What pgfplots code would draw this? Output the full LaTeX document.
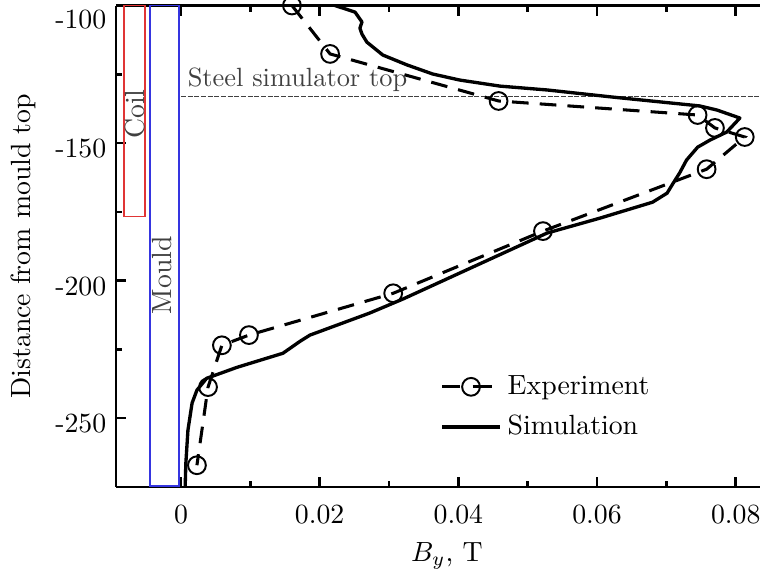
\documentclass[border=0pt]{standalone}
\usepackage{pgfplots}
\pgfplotsset{compat=1.18}
\usepackage{xcolor}
\definecolor{coilred}{HTML}{E03535}
\definecolor{mouldblue}{HTML}{3535E0}
\definecolor{notegray}{HTML}{404040}

\begin{document}
\begin{tikzpicture}
\begin{axis}[
  scale only axis,
  width=231.8pt, height=173.3pt,
  xmin=-0.00937, xmax=0.0835,
  ymin=-275, ymax=-100,
  axis x line=box, axis y line=left,
  every outer x axis line/.append style={-},
  every outer y axis line/.append style={-},
  every inner x axis line/.append style={-},
  every inner y axis line/.append style={-},
  axis line style={line width=1pt},
  tick align=inside,
  xtick pos=both, ytick pos=left,
  tick style={line width=0.9pt, black},
  major tick length=3.6pt, minor tick length=2.2pt,
  scaled x ticks=false,
  xtick={0,0.02,0.04,0.06,0.08},
  xticklabels={0,0.02,0.04,0.06,0.08},
  minor x tick num=1,
  ytick={-250,-200,-150},
  yticklabels={-250,-200,-150},
  minor ytick={-225,-175,-125},
  extra y ticks={-100},
  extra y tick labels={-100},
  extra y tick style={yticklabel style={yshift=-3.2pt}},
  xticklabel style={yshift=-3pt},
  yticklabel style={yshift=-2pt},
  xlabel={$B_y$, T},
  ylabel={Distance from mould top},
  xlabel style={xshift=3.2pt, yshift=0.5pt},
  legend style={at={(0.49,0.166)}, anchor=west, draw=none, fill=none, row sep=2pt},
  legend cell align=left,
]
\coordinate (bl) at (rel axis cs:0,0);
\coordinate (tr) at (rel axis cs:1,1);

% coil and mould outlines
\draw[coilred, line width=0.5pt] (axis cs:-0.00822,-100) rectangle (axis cs:-0.00519,-176.8);
\draw[mouldblue, line width=0.5pt] (axis cs:-0.00447,-100) rectangle (axis cs:-0.00030,-274.6);
\node[notegray, rotate=90] at (axis cs:-0.0067,-139.5) {Coil};
\node[notegray, rotate=90] at (axis cs:-0.0027,-198) {Mould};

% steel simulator top
\draw[notegray, line width=0.4pt, dash pattern=on 1.8pt off 0.6pt] (axis cs:0,-133) -- (axis cs:0.0835,-133);
\node[notegray, anchor=base west, inner sep=0pt, font=\fontsize{9.5}{11}\selectfont] at (axis cs:0.0009,-129.4) {Steel simulator top};

\addplot[black, line width=1.1pt, dash pattern=on 6pt off 4pt,
  mark=o, mark size=3.2pt, mark options={solid, line width=0.7pt},
  legend image code/.code={
    \draw[black, solid, line width=1.1pt] (0pt,0pt) -- (6.5pt,0pt);
    \draw[black, solid, line width=1.1pt] (11pt,0pt) -- (18pt,0pt);
    \draw[black, solid, line width=0.7pt] (10.4pt,0pt) circle (3.2pt);
  }]
coordinates {
(0.0160,-100.0) (0.0215,-117.6) (0.0458,-134.7) (0.0745,-139.8)
(0.0770,-144.5) (0.0813,-147.8) (0.0758,-159.5) (0.0522,-182.0)
(0.0306,-204.6) (0.0098,-219.8) (0.0059,-223.5) (0.0039,-238.7)
(0.0023,-267.1)
};
\addlegendentry{Experiment}

\addplot[black, line width=1.2pt, line join=round,
  legend image code/.code={\draw[black, solid, line width=1.2pt] (0pt,0pt) -- (21pt,0pt);}]
coordinates {
(0.0222,-100.0) (0.0251,-102.4) (0.0261,-106.0) (0.0258,-108.2)
(0.0261,-110.4) (0.0268,-113.3) (0.0291,-118.0) (0.0326,-121.6)
(0.0363,-124.9) (0.0402,-127.1) (0.0460,-129.3) (0.0528,-130.7)
(0.0623,-133.3) (0.0748,-136.5) (0.0773,-138.0) (0.0806,-140.9)
(0.0787,-146.0) (0.0763,-148.9) (0.0745,-151.5) (0.0729,-156.2)
(0.0719,-160.9) (0.0709,-164.9) (0.0701,-168.2) (0.0680,-171.5)
(0.0604,-177.3) (0.0528,-182.7) (0.0320,-206.7) (0.0272,-211.8)
(0.0186,-219.8) (0.0172,-222.0) (0.0147,-226.4) (0.0081,-231.5)
(0.0037,-235.5) (0.0023,-239.8) (0.0016,-244.5) (0.0010,-254.4)
(0.0007,-266.4) (0.0006,-275.1)
};
\addlegendentry{Simulation}
\end{axis}
\pgfresetboundingbox
\path[use as bounding box] ([xshift=-41.76pt,yshift=-31.3pt]bl) rectangle ([yshift=1.98pt]tr);
\end{tikzpicture}
\end{document}
